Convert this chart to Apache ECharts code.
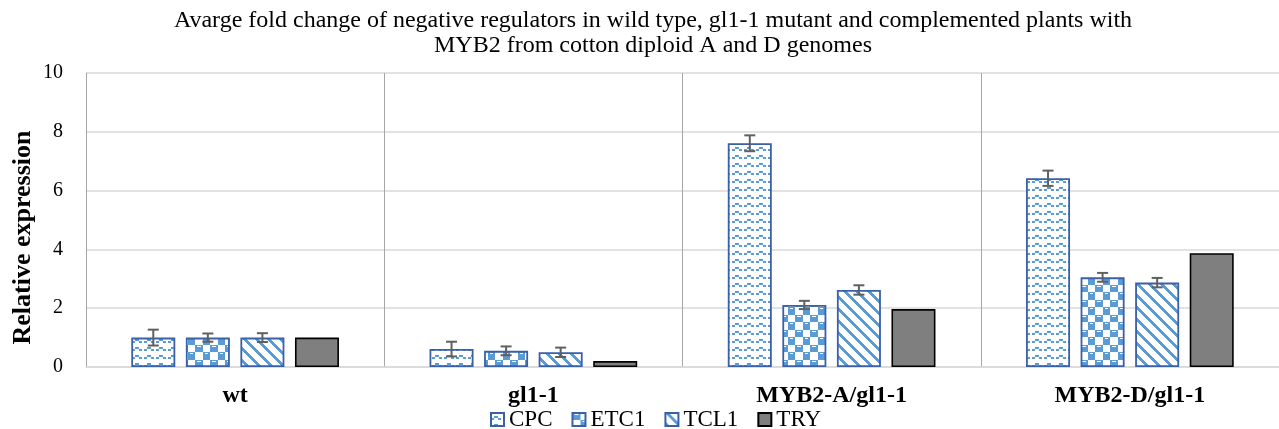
<!DOCTYPE html>
<html><head><meta charset="utf-8">
<script src="https://cdn.jsdelivr.net/npm/echarts@6/dist/echarts.min.js"></script>
<style>html,body{margin:0;padding:0;background:#fff}#c{width:1279px;height:429px}</style>
</head><body><div id="c"></div>
<script>
// ---- data ----
const categories = ['wt', 'gl1-1', 'MYB2-A/gl1-1', 'MYB2-D/gl1-1'];
const seriesNames = ['CPC', 'ETC1', 'TCL1', 'TRY'];
const cpcValues  = [1.00, 0.61, 7.61, 6.42];
const etc1Values = [1.00, 0.55, 2.11, 3.05];
const tcl1Values = [1.00, 0.50, 2.62, 2.87];
const tryValues  = [1.00, 0.20, 1.97, 3.87];
const cpcErr  = [0.27, 0.25, 0.27, 0.26];
const etc1Err = [0.14, 0.15, 0.14, 0.15];
const tcl1Err = [0.15, 0.16, 0.16, 0.16];
const yTickLabels = ['0', '2', '4', '6', '8', '10'];
const titleLines = ['Avarge fold change of negative regulators in wild type, gl1-1 mutant and complemented plants with',
                    'MYB2 from cotton diploid A and D genomes'];
const yAxisTitle = 'Relative expression';

// ---- styles ----
const SERIF = '"Liberation Serif","Times New Roman",serif';
const BLUE = '#5b9bd5';
const BORDER = '#3a60a8';
function makeTile(w, h, draw) {
  const c = document.createElement('canvas');
  c.width = w; c.height = h;
  const g = c.getContext('2d');
  g.fillStyle = '#fff'; g.fillRect(0, 0, w, h);
  g.fillStyle = BLUE; draw(g, w, h);
  return { image: c, repeat: 'repeat' };
}
const wavePattern = makeTile(12, 8, g => {
  g.fillRect(0, 5, 3, 2); g.fillRect(3, 3, 4, 2); g.fillRect(7, 5, 3, 2);
});
const checkerPattern = makeTile(15, 15, g => {
  g.fillRect(0, 0, 8, 7); g.fillRect(8, 7, 7, 8);
  g.fillStyle = '#fff'; g.fillRect(2, 1, 4, 1); g.fillRect(10, 8, 3, 1);
});
const diagPattern = makeTile(12, 12, g => {
  for (let y = 0; y < 12; y++) {
    const x = y % 12;
    g.fillRect(x, y, 4, 1);
    if (x + 4 > 12) g.fillRect(x - 12, y, 4, 1);
  }
});

const BAR_W = 44, GAP_RATIO = 0.24;
function barOffset(i) {
  const gap = BAR_W * GAP_RATIO;
  const total = 4 * BAR_W + 3 * gap;
  return -total / 2 + BAR_W / 2 + i * (BAR_W + gap);
}

const valueSets = [cpcValues, etc1Values, tcl1Values, tryValues];
const errSets = [cpcErr, etc1Err, tcl1Err];
const errData = [];
errSets.forEach((errs, s) => errs.forEach((e, c) => errData.push([c, valueSets[s][c], e, s])));

const fills = [wavePattern, checkerPattern, diagPattern, '#7f7f7f'];
const borders = [BORDER, BORDER, BORDER, '#000'];

const barSeries = seriesNames.map((name, i) => ({
  name, type: 'bar', data: valueSets[i], barWidth: BAR_W, barGap: (GAP_RATIO * 100) + '%',
  itemStyle: { color: fills[i], borderColor: borders[i], borderWidth: i === 3 ? 1.6 : 1.8 },
  emphasis: { disabled: true }, animation: false
}));

const errSeries = {
  name: 'err', type: 'custom', data: errData, z: 5, animation: false, silent: true,
  encode: { x: 0, y: 1 },
  renderItem(params, api) {
    const c = api.value(0), v = api.value(1), e = api.value(2), s = api.value(3);
    const top = api.coord([c, v + e]), bot = api.coord([c, v - e]);
    const x = top[0] + barOffset(s), cap = 5.5;
    const st = { stroke: '#606060', lineWidth: 2 };
    return { type: 'group', children: [
      { type: 'line', shape: { x1: x, y1: top[1], x2: x, y2: bot[1] }, style: st },
      { type: 'line', shape: { x1: x - cap, y1: top[1], x2: x + cap, y2: top[1] }, style: st },
      { type: 'line', shape: { x1: x - cap, y1: bot[1], x2: x + cap, y2: bot[1] }, style: st }
    ]};
  }
};

const chart = echarts.init(document.getElementById('c'), null, { renderer: 'canvas' });
chart.setOption({
  backgroundColor: '#fff',
  animation: false,
  grid: { left: 86, top: 73, width: 1201, height: 294, containLabel: false },
  xAxis: {
    type: 'category', data: categories,
    axisLine: { lineStyle: { color: '#d9d9d9', width: 1.5 } },
    axisTick: { show: false },
    splitLine: { show: true, lineStyle: { color: '#a6a6a6', width: 1 } },
    axisLabel: { fontFamily: SERIF, fontSize: 24, fontWeight: 'bold', color: '#000', margin: 17, interval: 0 }
  },
  yAxis: {
    type: 'value', min: 0, max: 10, interval: 2,
    axisLine: { show: false }, axisTick: { show: false },
    splitLine: { lineStyle: { color: '#d9d9d9', width: 1.5 } },
    axisLabel: { fontFamily: SERIF, fontSize: 20, color: '#000', margin: 23,
      formatter: (v) => yTickLabels[Math.round(v / 2)] }
  },
  legend: {
    data: seriesNames, left: 490, top: 408, padding: 0,
    itemWidth: 13, itemHeight: 13, itemGap: 19, icon: 'rect',
    textStyle: { fontFamily: SERIF, fontSize: 23, color: '#000', lineHeight: 22 },
    selectedMode: false
  },
  graphic: [
    { type: 'text', x: 653, y: 21, style: { text: titleLines[0], font: '24px ' + SERIF, fill: '#000', align: 'center', verticalAlign: 'middle' } },
    { type: 'text', x: 653, y: 46, style: { text: titleLines[1], font: '24px ' + SERIF, fill: '#000', align: 'center', verticalAlign: 'middle' } },
    { type: 'text', x: 23, y: 237.5, rotation: Math.PI / 2, style: { text: yAxisTitle, font: 'bold 26px ' + SERIF, fill: '#000', align: 'center', verticalAlign: 'middle' } }
  ],
  series: [...barSeries, errSeries]
});
</script></body></html>
